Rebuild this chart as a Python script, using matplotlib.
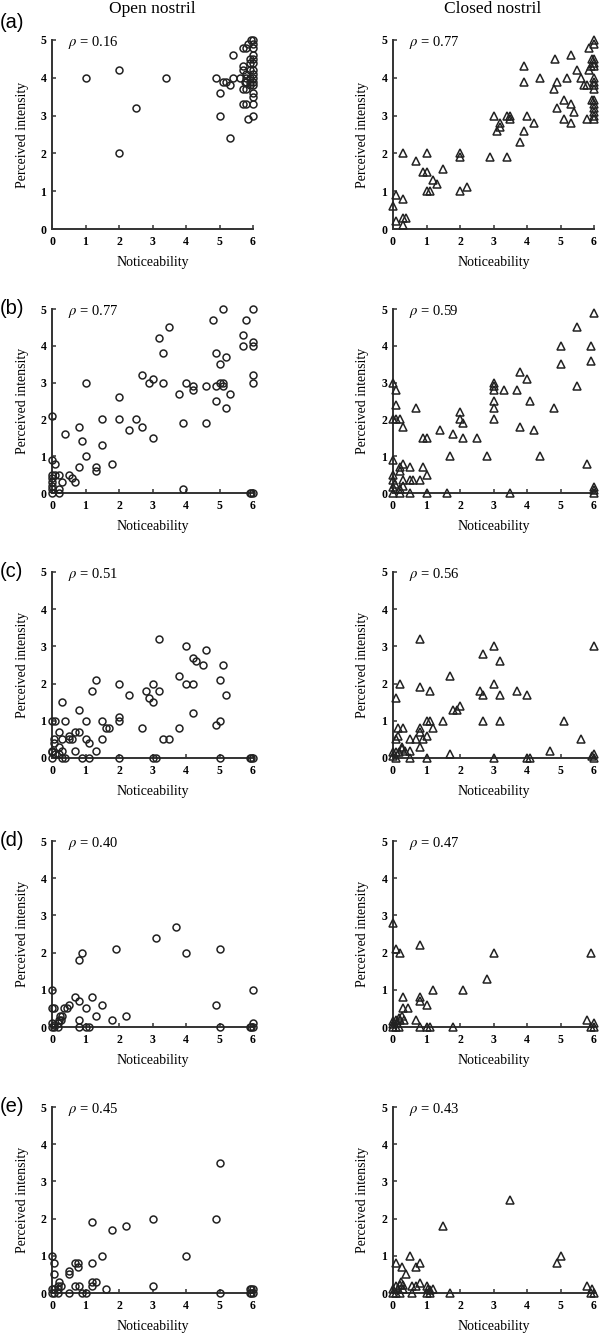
import matplotlib
matplotlib.use("Agg")
import matplotlib.pyplot as plt

plt.rcParams['font.family'] = ['Liberation Serif', 'DejaVu Serif']
plt.rcParams['mathtext.fontset'] = 'stix'

column_titles = ["Open nostril", "Closed nostril"]
panel_labels = ["(a)", "(b)", "(c)", "(d)", "(e)"]
rho_open = ["0.16", "0.77", "0.51", "0.40", "0.45"]
rho_closed = ["0.77", "0.59", "0.56", "0.47", "0.43"]
x_label = "Noticeability"
y_label = "Perceived intensity"
x_ticks = [0, 1, 2, 3, 4, 5, 6]
y_ticks = [0, 1, 2, 3, 4, 5]

# (noticeability, perceived intensity) pairs
open_a = [(1, 4), (2, 4.2), (2, 2), (2.5, 3.2), (3.4, 4), (4.9, 4), (5, 3.6), (5, 3), (5.1, 3.9), (5.2, 3.9),
          (5.3, 3.8), (5.4, 4.6), (5.4, 4), (5.3, 2.4), (5.6, 4), (5.7, 4.8), (5.8, 4.8), (5.85, 4.9), (5.95, 5), (6, 5),
          (5.7, 4.3), (5.7, 4.2), (5.7, 3.7), (5.8, 3.7), (5.7, 3.3), (5.8, 3.3), (5.85, 2.9), (6, 3), (6, 3.3), (6, 3.5),
          (6, 3.6), (6, 3.8), (6, 3.9), (6, 4), (6, 4.1), (6, 4.2), (6, 4.4), (6, 4.5), (6, 4.6), (6, 4.8), (6, 4.9),
          (5.9, 4.5), (5.9, 4.4), (5.9, 4.2), (5.9, 4), (5.9, 3.9), (5.9, 3.8), (5.8, 4), (5.8, 3.9), (5.8, 4.1), (5.75, 3.9)]
closed_a = [(0, 0.6), (0.1, 0.9), (0.3, 0.8), (0.1, 0.2), (0.3, 0.1), (0.3, 0.3), (0.4, 0.3), (0.3, 2.0), (0.7, 1.8), (1.0, 2.0),
            (0.9, 1.5), (1.0, 1.5), (1.2, 1.3), (1.3, 1.2), (1.0, 1.0), (1.1, 1.0), (1.5, 1.6), (2.0, 2.0), (2.0, 1.9), (2.0, 1.0),
            (2.2, 1.1), (2.9, 1.9), (3.0, 3.0), (3.1, 2.6), (3.2, 2.8), (3.2, 2.7), (3.4, 1.9), (3.4, 3.0), (3.5, 3.0), (3.5, 2.9),
            (3.9, 4.3), (3.9, 3.9), (3.8, 2.3), (3.9, 2.6), (4.0, 3.0), (4.2, 2.8), (4.4, 4.0), (4.85, 4.5), (4.8, 3.7), (4.9, 3.9),
            (4.9, 3.2), (5.1, 3.4), (5.1, 2.9), (5.3, 3.3), (5.3, 2.8), (5.3, 4.6), (5.2, 4.0), (5.4, 3.1), (5.5, 4.2), (5.6, 4.0),
            (5.7, 3.8), (5.8, 3.8), (5.8, 2.9), (5.85, 4.8), (5.85, 4.2), (5.9, 4.3), (6, 5.0), (6, 4.9), (6, 4.5), (6, 4.4),
            (6, 4.3), (6, 4.0), (6, 3.9), (6, 3.8), (6, 3.7), (6, 3.4), (6, 3.3), (6, 3.2), (6, 3.1), (6, 3.0), (6, 2.9),
            (5.95, 4.5), (5.95, 3.4)]
open_b = [(0, 2.1), (0, 0.9), (0.1, 0.8), (0, 0.5), (0, 0.4), (0, 0.3), (0, 0.2), (0, 0.1), (0, 0), (0.1, 0.5),
          (0.2, 0.5), (0.2, 0.1), (0.2, 0), (0.3, 0.3), (0.4, 1.6), (0.5, 0.5), (0.6, 0.4), (0.7, 0.3), (0.8, 1.8), (0.8, 0.7),
          (0.9, 1.4), (1.0, 3.0), (1.0, 1.0), (1.3, 0.7), (1.3, 0.6), (1.5, 2.0), (1.5, 1.3), (1.8, 0.8), (2.0, 2.6), (2.0, 2.0),
          (2.3, 1.7), (2.5, 2.0), (2.7, 3.2), (2.7, 1.8), (2.9, 3.0), (3.0, 3.1), (3.0, 1.5), (3.2, 4.2), (3.3, 3.8), (3.3, 3.0),
          (3.5, 4.5), (3.8, 2.7), (3.9, 1.9), (3.9, 0.1), (4.0, 3.0), (4.2, 2.9), (4.2, 2.8), (4.6, 1.9), (4.6, 2.9), (4.8, 4.7),
          (4.9, 3.8), (4.9, 2.9), (4.9, 2.5), (5.0, 3.5), (5.0, 3.0), (5.1, 3.0), (5.1, 2.9), (5.1, 5.0), (5.2, 3.7), (5.2, 2.3),
          (5.3, 2.7), (5.7, 4.3), (5.7, 4.0), (5.8, 4.7), (6, 5.0), (6, 4.1), (6, 4.0), (6, 3.2), (6, 3.0), (5.9, 0), (5.95, 0), (6, 0)]
closed_b = [(0, 3.0), (0.1, 2.8), (0.1, 2.4), (0, 2.0), (0.1, 2.0), (0.2, 2.0), (0.3, 1.8), (0, 0.9), (0, 0.5), (0, 0.35),
            (0, 0.15), (0, 0), (0.07, 0.25), (0.2, 0.7), (0.2, 0.6), (0.3, 0.8), (0.3, 0.35), (0.2, 0.1), (0.3, 0.2), (0.5, 0.7),
            (0.5, 0.35), (0.6, 0.35), (0.8, 0.35), (0.5, 0), (0.2, 0), (0.7, 2.3), (0.9, 1.5), (1.0, 1.5), (0.9, 0.7), (1.0, 0.5),
            (1.0, 0), (1.4, 1.7), (1.6, 0), (1.7, 1.0), (1.8, 1.6), (2.0, 2.2), (2.0, 2.0), (2.1, 1.9), (2.1, 1.5), (2.5, 1.5),
            (2.8, 1.0), (3, 3.0), (3, 2.9), (3, 2.8), (3, 2.5), (3, 2.3), (3, 2.0), (3.3, 2.8), (3.5, 0), (3.7, 2.8),
            (3.8, 3.3), (3.8, 1.8), (4.0, 3.1), (4.1, 2.5), (4.2, 1.7), (4.4, 1.0), (4.8, 2.3), (5.0, 4.0), (5.0, 3.5), (5.5, 4.5),
            (5.5, 2.9), (5.8, 0.8), (5.9, 4.0), (5.9, 3.6), (6, 4.9), (6, 0.15), (6, 0.08), (6, 0)]
open_c = [(0, 1.0), (0.1, 1.0), (0, 0.2), (0, 0.15), (0, 0), (0.07, 0.5), (0.07, 0.4), (0.2, 0.7), (0.2, 0.3), (0.1, 0.1),
          (0.2, 0.1), (0.3, 0), (0.3, 1.5), (0.3, 0.5), (0.3, 0.2), (0.4, 1.0), (0.4, 0), (0.5, 0.6), (0.6, 0.5), (0.5, 0.5),
          (0.7, 0.7), (0.8, 0.7), (0.8, 1.3), (0.7, 0.2), (0.9, 0), (1.0, 1.0), (1.0, 0.5), (1.1, 0.4), (1.1, 0), (1.2, 1.8),
          (1.3, 2.1), (1.3, 0.2), (1.5, 1.0), (1.5, 0.5), (1.6, 0.8), (1.7, 0.8), (2.0, 2.0), (2.0, 1.1), (2.0, 1.0), (2.0, 0),
          (2.3, 1.7), (2.7, 0.8), (2.8, 1.8), (2.9, 1.6), (3.0, 2.0), (3.0, 1.5), (3.0, 0), (3.1, 0), (3.2, 3.2), (3.2, 1.8),
          (3.3, 0.5), (3.5, 0.5), (3.8, 2.2), (3.8, 0.8), (4.0, 3.0), (4.0, 2.0), (4.2, 2.7), (4.2, 2.0), (4.2, 1.2), (4.3, 2.6),
          (4.5, 2.5), (4.6, 2.9), (4.9, 0.9), (5.0, 1.0), (5.0, 2.1), (5.0, 0), (5.1, 2.5), (5.2, 1.7), (5.9, 0), (5.95, 0), (6, 0)]
closed_c = [(0.1, 1.6), (0.2, 2.0), (0.15, 0.8), (0.3, 0.8), (0.15, 0.6), (0.1, 0.5), (0, 0.15), (0, 0.06), (0.08, 0.15), (0.08, 0),
            (0.18, 0.15), (0.28, 0.25), (0.28, 0.3), (0.36, 0.2), (0.5, 0.5), (0.5, 0.2), (0.5, 0), (0.7, 0.5), (0.8, 3.2), (0.8, 1.9),
            (0.8, 0.8), (0.8, 0.7), (0.8, 0.3), (0.9, 0.5), (1.0, 0.6), (1.0, 0), (1.0, 1.0), (1.1, 1.0), (1.1, 1.8), (1.2, 0.8),
            (1.5, 1.0), (1.7, 2.2), (1.7, 0.1), (1.8, 1.3), (1.9, 1.3), (2.0, 1.4), (2.6, 1.8), (2.7, 1.7), (2.7, 1.0), (2.7, 2.8),
            (3.0, 3.0), (3.0, 2.0), (3.0, 0), (3.2, 2.6), (3.2, 1.7), (3.2, 1.0), (3.7, 1.8), (4.0, 1.7), (4.1, 0), (4.0, 0),
            (4.7, 0.2), (5.1, 1.0), (5.6, 0.5), (6, 3.0), (6, 0.1), (5.95, 0.05), (6, 0)]
open_d = [(0, 1.0), (0, 0.5), (0.07, 0.5), (0, 0.1), (0, 0), (0.07, 0.06), (0.07, 0), (0.17, 0), (0.17, 0.1), (0.2, 0.2),
          (0.25, 0.3), (0.3, 0.3), (0.27, 0.2), (0.35, 0.5), (0.45, 0.5), (0.5, 0.6), (0.7, 0.8), (0.8, 0.7), (0.8, 0.2), (0.8, 0),
          (0.8, 1.8), (0.9, 2.0), (1.0, 0.5), (1.0, 0), (1.1, 0), (1.2, 0.8), (1.3, 0.3), (1.5, 0.6), (1.8, 0.2), (1.9, 2.1),
          (2.2, 0.3), (3.1, 2.4), (3.7, 2.7), (4.0, 2.0), (4.9, 0.6), (5.0, 2.1), (5.0, 0), (5.9, 0), (5.95, 0), (6, 1.0),
          (6, 0.1), (6, 0)]
closed_d = [(0, 2.8), (0.1, 2.1), (0.2, 2.0), (0.8, 2.2), (3.0, 2.0), (5.9, 2.0), (2.8, 1.3), (1.2, 1.0), (2.1, 1.0), (0.3, 0.8),
            (0.8, 0.8), (0.8, 0.7), (1.0, 0.6), (0.3, 0.5), (0.45, 0.5), (0.7, 0.2), (0, 0.15), (0, 0.07), (0.08, 0.2), (0.13, 0.1),
            (0.18, 0.25), (0.22, 0.2), (0.28, 0.3), (0.33, 0.2), (0.08, 0), (0.18, 0), (0, 0), (0.8, 0), (1.0, 0), (1.1, 0),
            (1.8, 0), (5.8, 0.2), (6, 0.1), (6, 0), (5.9, 0)]
open_e = [(0, 1.0), (0.07, 0.8), (0.07, 0.5), (0, 0.1), (0, 0), (0.07, 0.1), (0.07, 0), (0.17, 0.1), (0.17, 0), (0.2, 0.3),
          (0.17, 0.2), (0.28, 0.2), (0.5, 0.6), (0.5, 0.5), (0.5, 0), (0.7, 0.8), (0.78, 0.8), (0.78, 0.7), (0.7, 0.2), (0.8, 0.2),
          (0.9, 0), (1.0, 0), (1.2, 1.9), (1.2, 0.8), (1.2, 0.3), (1.3, 0.3), (1.2, 0.2), (1.5, 1.0), (1.6, 0.1), (1.8, 1.7),
          (2.2, 1.8), (3.0, 2.0), (3.0, 0.2), (4.0, 1.0), (4.9, 2.0), (5.0, 3.5), (5.0, 0), (5.9, 0.1), (5.95, 0.1), (6, 0.1),
          (5.9, 0), (5.95, 0), (6, 0)]
closed_e = [(3.5, 2.5), (1.5, 1.8), (0.5, 1.0), (0.08, 0.8), (0.28, 0.7), (0.4, 0.5), (0.7, 0.7), (0.8, 0.8), (4.9, 0.8), (5.0, 1.0),
            (0, 0.1), (0, 0), (0.1, 0.18), (0.15, 0.1), (0.2, 0.22), (0.25, 0.3), (0.3, 0.22), (0.3, 0.1), (0.1, 0), (0.2, 0),
            (0.57, 0.18), (0.57, 0), (0.7, 0.18), (0.8, 0.28), (1.0, 0.18), (1.05, 0.1), (1.1, 0.08), (1.0, 0), (1.1, 0), (1.2, 0.1),
            (1.7, 0), (5.8, 0.18), (5.95, 0.1), (6, 0), (5.9, 0)]

open_data = [open_a, open_b, open_c, open_d, open_e]
closed_data = [closed_a, closed_b, closed_c, closed_d, closed_e]

W, H = 600, 1337
fig = plt.figure(figsize=(W / 100, H / 100), dpi=100)

row_px = [(40, 229), (309, 493), (572, 758), (841, 1027), (1107, 1293)]
col_px = [(52, 253), (393, 594)]
ylabel_right_px = [29, 369]
label_y_px = [23, 309, 572, 840, 1106]
ink = '#222222'


def make_axes(c, r):
    (x0, x1), (y0, y1) = col_px[c], row_px[r]
    ax = fig.add_axes([x0 / W, 1 - y1 / H, (x1 - x0) / W, (y1 - y0) / H])
    ax.set_xlim(0, 6)
    ax.set_ylim(0, 5)
    for s in ['top', 'right']:
        ax.spines[s].set_visible(False)
    for s in ['left', 'bottom']:
        ax.spines[s].set_linewidth(1.4)
        ax.spines[s].set_color('#333333')
    ax.set_xticks(x_ticks)
    ax.set_yticks(y_ticks)
    ax.tick_params(direction='in', length=3, width=1.1, color='#333333', labelsize=8.5)
    ax.tick_params(axis='x', pad=5)
    ax.tick_params(axis='y', pad=4)
    for lab in ax.get_xticklabels() + ax.get_yticklabels():
        lab.set_fontweight('bold')
    ax.set_xlabel(x_label, fontsize=10)
    ax.set_ylabel(y_label, fontsize=10)
    ax.xaxis.set_label_coords(0.5, -27 / (y1 - y0))
    ax.yaxis.set_label_coords((ylabel_right_px[c] - x0) / (x1 - x0), 0.5)
    return ax


for r in range(5):
    for c in range(2):
        ax = make_axes(c, r)
        data = open_data[r] if c == 0 else closed_data[r]
        xs = [p[0] for p in data]
        ys = [p[1] for p in data]
        if c == 0:
            ax.plot(xs, ys, linestyle='none', marker='o', markersize=5, markerfacecolor='none',
                    markeredgecolor=ink, markeredgewidth=1.1, clip_on=False, zorder=3)
            rho = rho_open[r]
        else:
            ax.plot(xs, ys, linestyle='none', marker='^', markersize=5.8, markerfacecolor='none',
                    markeredgecolor=ink, markeredgewidth=1.1, clip_on=False, zorder=3)
            rho = rho_closed[r]
        ax.text(0.08, 0.985, r'$\rho$ = ' + rho, transform=ax.transAxes, fontsize=10.5,
                ha='left', va='center')

for r in range(5):
    fig.text(0 / W, 1 - label_y_px[r] / H, panel_labels[r], fontsize=14.5,
             family=['Liberation Sans', 'DejaVu Sans'], ha='left', va='center')

fig.text(152 / W, 1 - 9 / H, column_titles[0], fontsize=12.5, ha='center', va='center')
fig.text(493 / W, 1 - 9 / H, column_titles[1], fontsize=12.5, ha='center', va='center')

fig.savefig('out.png', dpi=100)
